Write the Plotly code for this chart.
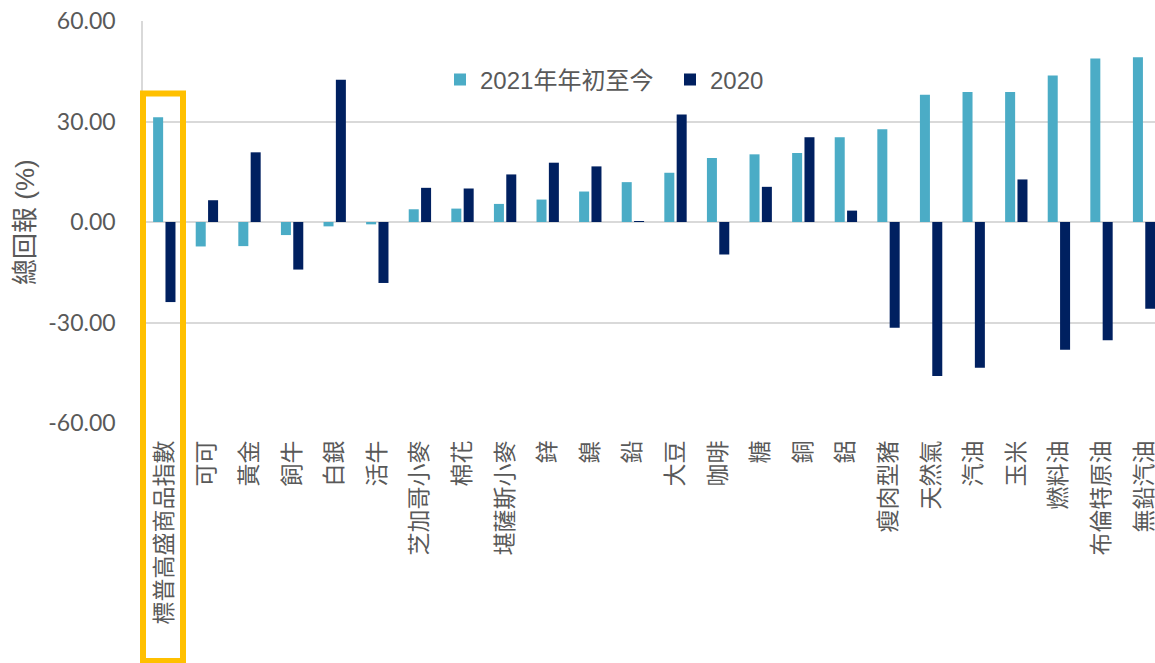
import plotly.graph_objects as go

categories = ["標普高盛商品指數", "可可", "黃金", "飼牛", "白銀", "活牛", "芝加哥小麥", "棉花",
              "堪薩斯小麥", "鋅", "鎳", "鉛", "大豆", "咖啡", "糖", "銅", "鋁", "瘦肉型豬",
              "天然氣", "汽油", "玉米", "燃料油", "布倫特原油", "無鉛汽油"]
ytd_2021 = [31.3, -7.3, -7.2, -3.9, -1.3, -0.7, 3.8, 4.0, 5.4, 6.7, 9.1, 11.9, 14.7, 19.1,
            20.2, 20.6, 25.3, 27.7, 38.0, 38.8, 38.8, 43.7, 48.8, 49.2]
y_2020 = [-23.9, 6.5, 20.8, -14.2, 42.5, -18.2, 10.2, 10.0, 14.2, 17.7, 16.6, 0.2, 32.1, -9.7,
          10.5, 25.3, 3.4, -31.6, -46.0, -43.5, 12.7, -38.1, -35.3, -25.9]
y_ticks = [-60, -30, 0, 30, 60]
y_tick_labels = ["-60.00", "-30.00", "0.00", "30.00", "60.00"]

W, H = 1155, 663
L, R, T, B = 143, 0, 21, 240
pw, ph = W - L - R, H - T - B
cat_px = 42.6

def px_x(px):
    return (px - L) / pw

def px_y(py):
    return (H - B - py) / ph

CJK = "Noto Sans CJK TC"
GRAY = "#595959"

fig = go.Figure()
fig.add_trace(go.Bar(x=categories, y=ytd_2021, name="2021年年初至今",
                     marker=dict(color="#4BACC6", line=dict(width=0))))
fig.add_trace(go.Bar(x=categories, y=y_2020, name="2020",
                     marker=dict(color="#002060", line=dict(width=0))))

fig.update_layout(
    width=W, height=H,
    margin=dict(l=L, r=R, t=T, b=B, pad=0, autoexpand=False),
    plot_bgcolor="white", paper_bgcolor="white",
    barmode="group", bargap=0.42, bargroupgap=0.19,
    showlegend=True,
    legend=dict(orientation="h", x=px_x(440), y=px_y(80), xanchor="left", yanchor="middle",
                font=dict(family="Liberation Sans, Arial, " + CJK, size=24, color=GRAY),
                bgcolor="rgba(0,0,0,0)", entrywidth=185, entrywidthmode="pixels",
                itemclick=False),
    xaxis=dict(type="category", range=[-0.5, -0.5 + pw / cat_px], tickangle=-90,
               showgrid=False, zeroline=False, showline=False, ticks="",
               tickfont=dict(family=CJK, size=23, color=GRAY), ticklabelstandoff=12),
    yaxis=dict(range=[-60, 60], tickvals=y_ticks, ticktext=y_tick_labels,
               showgrid=True, gridcolor="#D9D9D9", gridwidth=1.5,
               zeroline=True, zerolinecolor="#D9D9D9", zerolinewidth=1.5,
               showline=True, linecolor="#D9D9D9", linewidth=1.5, ticks="",
               tickfont=dict(family="Lato, Carlito, Calibri, sans-serif", size=23, color=GRAY),
               ticklabelstandoff=21),
)

fig.add_annotation(text="總回報 (%)", xref="paper", yref="paper", x=px_x(25), y=px_y(222),
                   xanchor="center", yanchor="middle", textangle=-90, showarrow=False,
                   font=dict(family="Liberation Sans, " + CJK, size=26, color=GRAY))

fig.add_shape(type="rect", xref="paper", yref="paper",
              x0=px_x(143), x1=px_x(183), y0=px_y(661), y1=px_y(93.5),
              line=dict(color="#FFC000", width=6), fillcolor="rgba(0,0,0,0)", layer="above")

fig.write_html("out.html")
